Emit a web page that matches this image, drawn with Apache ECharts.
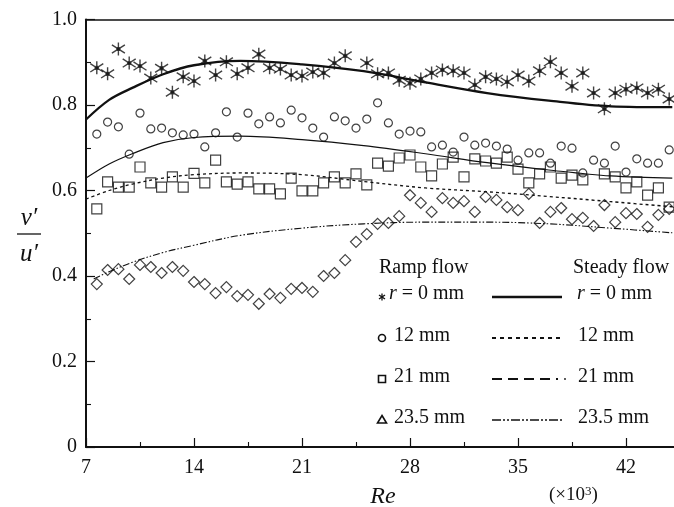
<!DOCTYPE html>
<html>
<head>
<meta charset="utf-8">
<script src="https://cdn.jsdelivr.net/npm/echarts@6/dist/echarts.min.js"></script>
<style>
  html, body { margin: 0; padding: 0; background: #fff; }
  #chart { width: 674px; height: 507px; }
</style>
</head>
<body>
<div id="chart"></div>
<script>
// Reynolds number samples of the ramp-flow measurements (×10³)
const reSamples = [7.7, 8.4, 9.1, 9.8, 10.5, 11.2, 11.9, 12.6, 13.3, 14.0, 14.7, 15.4, 16.1, 16.8,
  17.5, 18.2, 18.9, 19.6, 20.3, 21.0, 21.7, 22.4, 23.1, 23.8, 24.5, 25.2, 25.9, 26.6, 27.3, 28.0,
  28.7, 29.4, 30.1, 30.8, 31.5, 32.2, 32.9, 33.6, 34.3, 35.0, 35.7, 36.4, 37.1, 37.8, 38.5, 39.2,
  39.9, 40.6, 41.3, 42.0, 42.7, 43.4, 44.1, 44.8];

// Ramp flow v'/u' at each radial position
const rampR0 = [0.887, 0.873, 0.931, 0.898, 0.891, 0.863, 0.886, 0.830, 0.866, 0.856, 0.903, 0.870,
  0.901, 0.873, 0.887, 0.919, 0.887, 0.884, 0.870, 0.868, 0.877, 0.875, 0.898, 0.915, null, 0.898,
  0.873, 0.875, 0.858, 0.851, 0.861, 0.875, 0.882, 0.880, 0.875, 0.847, 0.866, 0.861, 0.854, 0.870,
  0.856, 0.880, 0.901, 0.875, 0.844, 0.875, 0.828, 0.791, 0.828, 0.837, 0.840, 0.828, 0.837, 0.814];
const rampR12 = [0.732, 0.760, 0.749, 0.685, 0.781, 0.744, 0.746, 0.735, 0.730, 0.732, 0.702, 0.735,
  0.784, 0.725, 0.781, 0.756, 0.772, 0.758, 0.788, 0.770, 0.746, 0.725, 0.772, 0.763, 0.746, 0.767,
  0.805, 0.758, 0.732, 0.739, 0.737, 0.702, 0.706, 0.690, 0.725, 0.706, 0.711, 0.704, 0.697, 0.671,
  0.688, 0.688, 0.664, 0.704, 0.699, 0.641, 0.671, 0.664, 0.704, 0.643, 0.674, 0.664, 0.664, 0.695];
const rampR21 = [0.557, 0.620, 0.608, 0.608, 0.655, 0.618, 0.608, 0.632, 0.608, 0.640, 0.618, 0.671,
  0.620, 0.615, 0.620, 0.604, 0.604, 0.592, 0.629, 0.599, 0.599, 0.618, 0.632, 0.618, 0.639, 0.613,
  0.664, 0.657, 0.676, 0.683, 0.655, 0.634, 0.662, 0.678, 0.632, 0.674, 0.669, 0.664, 0.678, 0.650,
  0.618, 0.639, 0.655, 0.629, 0.636, 0.625, null, 0.639, 0.632, 0.606, 0.620, 0.589, 0.606, 0.561];
const rampR235 = [0.381, 0.414, 0.416, 0.393, 0.426, 0.421, 0.407, 0.421, 0.412, 0.386, 0.381, 0.360,
  0.374, 0.353, 0.356, 0.335, 0.358, 0.349, 0.370, 0.372, 0.363, 0.400, 0.407, 0.437, 0.480, 0.498,
  0.522, 0.524, 0.540, 0.589, 0.571, 0.550, 0.582, 0.571, 0.575, 0.550, 0.585, 0.578, 0.561, 0.554,
  0.592, 0.524, 0.550, 0.559, 0.533, 0.536, 0.517, 0.566, 0.526, 0.547, 0.545, 0.515, 0.543, 0.557];

// Steady flow profiles
const steadyRe = [7, 8.5, 10, 12, 14, 17, 21, 25, 29, 33, 37, 41, 45];
const steadyR0 = [0.766, 0.812, 0.840, 0.872, 0.893, 0.903, 0.895, 0.879, 0.853, 0.828, 0.810, 0.797, 0.795];
const steadyR12 = [0.629, 0.662, 0.686, 0.712, 0.724, 0.727, 0.719, 0.705, 0.686, 0.665, 0.648, 0.634, 0.629];
const steadyR21 = [0.580, 0.600, 0.615, 0.629, 0.637, 0.641, 0.637, 0.621, 0.606, 0.597, 0.586, 0.574, 0.562];
const steadyRe235 = [7.5, 8.5, 10, 12, 14, 17, 21, 25, 29, 33, 37, 41, 45];
const steadyR235 = [0.393, 0.410, 0.432, 0.455, 0.472, 0.495, 0.512, 0.522, 0.526, 0.526, 0.522, 0.512, 0.501];

// Axis settings
const xMin = 7, xMax = 49, xStep = 7;
const yMin = 0, yMax = 1, yStep = 0.2;

// Legend labels
const rampTitle = 'Ramp flow';
const steadyTitle = 'Steady flow';
const rowLabels = ['{i|r} = 0 mm', '12 mm', '21 mm', '23.5 mm'];

const SERIF = 'Liberation Serif';
const INK = '#111';

function pairs(xs, ys) {
  const out = [];
  xs.forEach((x, i) => { if (ys[i] != null) out.push([x, ys[i]]); });
  return out;
}

const starPath = 'path://M0,-7L0,7M-7,-4.5L7,4.5M-7,4.5L7,-4.5M-1.8,0A1.8,1.8 0 1,0 1.8,0A1.8,1.8 0 1,0 -1.8,0Z';
const hollow = 'rgba(255,255,255,0)';

function rampSeries(name, data, symbol, size, bw) {
  return {
    name, type: 'scatter', data, symbol, symbolSize: size, z: 4,
    itemStyle: { color: symbol === starPath ? INK : hollow, borderColor: INK, borderWidth: bw },
    silent: true
  };
}
function steadySeries(name, xs, ys, width, type) {
  return {
    name, type: 'line', data: pairs(xs, ys), showSymbol: false, symbol: 'none',
    smooth: 0.35, z: 3, silent: true,
    lineStyle: { color: INK, width, type }
  };
}

const rich = { i: { fontStyle: 'italic', fontFamily: SERIF, fontSize: 20, fill: INK, color: INK } };
function label(text, x, y) {
  return {
    type: 'text', x, y, z: 10,
    style: { text, fontFamily: SERIF, fontSize: 20, fill: INK,
      align: 'left', verticalAlign: 'middle', rich }
  };
}
function seg(x1, x2, y1, y2, width, dash) {
  return { type: 'line', z: 10, shape: { x1, y1, x2, y2 },
    style: { stroke: INK, lineWidth: width, lineDash: dash || null } };
}

const rowsY = [294, 336, 377, 418];
const lineY = [297, 338, 379, 420];
const mx = 382;

const legendGraphics = [
  label(rampTitle, 379, 268),
  label(steadyTitle, 573, 268),
  label(rowLabels[0], 389, rowsY[0]),
  label(rowLabels[1], 394, rowsY[1]),
  label(rowLabels[2], 394, rowsY[2]),
  label(rowLabels[3], 394, rowsY[3]),
  label(rowLabels[0], 577, rowsY[0]),
  label(rowLabels[1], 578, rowsY[1]),
  label(rowLabels[2], 578, rowsY[2]),
  label(rowLabels[3], 578, rowsY[3]),
  // ramp markers
  seg(mx, mx, lineY[0] - 3.5, lineY[0] + 3.5, 1.3),
  seg(mx - 3, mx + 3, lineY[0] - 2, lineY[0] + 2, 1.3),
  seg(mx - 3, mx + 3, lineY[0] + 2, lineY[0] - 2, 1.3),
  { type: 'circle', z: 10, shape: { cx: mx, cy: lineY[1], r: 3.5 }, style: { stroke: INK, lineWidth: 1.6, fill: hollow } },
  { type: 'rect', z: 10, shape: { x: mx - 3.5, y: lineY[2] - 3.5, width: 7, height: 7 }, style: { stroke: INK, lineWidth: 1.6, fill: hollow } },
  { type: 'polygon', z: 10, shape: { points: [[mx, lineY[3] - 4.5], [mx + 4.5, lineY[3] + 3], [mx - 4.5, lineY[3] + 3]] },
    style: { stroke: INK, lineWidth: 1.6, fill: hollow } },
  // steady line samples
  seg(492, 562, lineY[0], lineY[0], 2.6),
  seg(492, 562, lineY[1], lineY[1], 1.8, [4, 4]),
  seg(492, 558, lineY[2], lineY[2], 2, [10, 6]),
  { type: 'circle', z: 10, shape: { cx: 565, cy: lineY[2], r: 0.9 }, style: { fill: INK } },
  seg(492, 562, lineY[3], lineY[3], 1.6, [9, 2, 2, 2, 2, 2])
];

const axisGraphics = [
  // y axis title v'/u'
  { type: 'text', x: 29, y: 218, z: 10, style: { text: 'v′', fontFamily: SERIF, fontStyle: 'italic', fontSize: 25, fill: INK, align: 'center', verticalAlign: 'middle' } },
  seg(17, 41, 234, 234, 1.3),
  { type: 'text', x: 29, y: 254, z: 10, style: { text: 'u′', fontFamily: SERIF, fontStyle: 'italic', fontSize: 25, fill: INK, align: 'center', verticalAlign: 'middle' } },
  // x axis title and scale note
  { type: 'text', x: 383, y: 497, z: 10, style: { text: 'Re', fontFamily: SERIF, fontStyle: 'italic', fontSize: 24, fill: INK, align: 'center', verticalAlign: 'middle' } },
  { type: 'text', x: 549, y: 495, z: 10, style: { text: '(×10{s|3})', fontFamily: SERIF, fontSize: 19, fill: INK, align: 'left', verticalAlign: 'middle',
    rich: { s: { fontFamily: SERIF, fontSize: 13, fill: INK, color: INK, verticalAlign: 'top', lineHeight: 13, padding: [0, 0, 8, 0] } } } }
];

const chart = echarts.init(document.getElementById('chart'), null, { renderer: 'canvas' });
chart.setOption({
  animation: false,
  backgroundColor: '#fff',
  grid: { left: 86, top: 19.5, width: (xMax - xMin) / xStep * 108, height: 427.5,
    containLabel: false, outerBoundsMode: 'none' },
  xAxis: [{
    type: 'value', min: xMin, max: xMax, interval: xStep,
    axisLine: { show: true, onZero: false, lineStyle: { color: INK, width: 2 } },
    axisTick: { show: true, inside: true, length: 9, lineStyle: { color: INK, width: 1.2 } },
    minorTick: { show: true, splitNumber: 2, length: 5, lineStyle: { color: INK, width: 1.1 } },
    axisLabel: { margin: 11, color: INK, fontFamily: SERIF, fontSize: 20, hideOverlap: false },
    splitLine: { show: false }
  }, {
    type: 'value', position: 'top', min: xMin, max: xMax, interval: xStep,
    axisLine: { show: true, onZero: false, lineStyle: { color: INK, width: 1.5 } },
    axisTick: { show: false }, axisLabel: { show: false }, splitLine: { show: false }
  }],
  yAxis: {
    type: 'value', min: yMin, max: yMax, interval: yStep,
    axisLine: { show: true, onZero: false, lineStyle: { color: INK, width: 2 } },
    axisTick: { show: true, inside: true, length: 9, lineStyle: { color: INK, width: 1.2 } },
    minorTick: { show: true, splitNumber: 2, length: 5, lineStyle: { color: INK, width: 1.1 } },
    axisLabel: { margin: 9, color: INK, fontFamily: SERIF, fontSize: 20,
      formatter: v => (v === 0 ? '0' : v.toFixed(1)) },
    splitLine: { show: false }
  },
  series: [
    steadySeries('Steady r = 0 mm', steadyRe, steadyR0, 2.3, 'solid'),
    steadySeries('Steady 12 mm', steadyRe, steadyR12, 1.2, 'solid'),
    steadySeries('Steady 21 mm', steadyRe, steadyR21, 1.3, [3, 3]),
    steadySeries('Steady 23.5 mm', steadyRe235, steadyR235, 1.1, [7, 2, 1.5, 2, 1.5, 2]),
    rampSeries('Ramp r = 0 mm', pairs(reSamples, rampR0), starPath, 13, 1.4),
    rampSeries('Ramp 12 mm', pairs(reSamples, rampR12), 'circle', 8, 1.2),
    rampSeries('Ramp 21 mm', pairs(reSamples, rampR21), 'rect', 10, 1.2),
    rampSeries('Ramp 23.5 mm', pairs(reSamples, rampR235), 'diamond', 11, 1.2)
  ],
  graphic: legendGraphics.concat(axisGraphics)
});
</script>
</body>
</html>
